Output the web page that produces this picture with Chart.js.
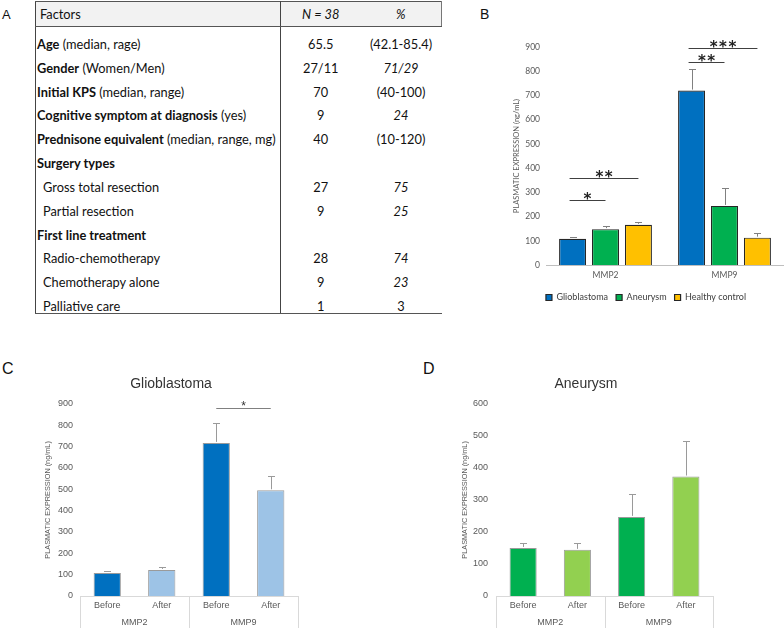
<!DOCTYPE html>
<html>
<head>
<meta charset="utf-8">
<script src="https://cdn.jsdelivr.net/npm/chart.js@4.4.1/dist/chart.umd.min.js"></script>
<style>
  body { margin: 0; background: #fff; width: 784px; height: 628px; position: relative; overflow: hidden; }
  .lbl { position: absolute; font-family: "Liberation Sans", Arial, sans-serif; line-height: 1; color: #111; }
  canvas { position: absolute; }
  table { position: absolute; left: 35px; top: 1px; width: 406px; border-collapse: collapse; table-layout: fixed;
          font-family: Lato, sans-serif; font-size: 12.8px; color: #111; }
  td { padding: 0; line-height: 14px; white-space: nowrap; }
  thead td { height: 24px; background: #f2f2f2; vertical-align: middle; border-top: 1.5px solid #555; border-bottom: 1.5px solid #555; }
  tbody td { height: 23.85px; vertical-align: bottom; }
  tbody tr:last-child td { border-bottom: 1.5px solid #555; }
  td.c1 { border-left: 1.5px solid #444; border-right: 1.5px solid #444; padding-left: 1px; }
  td.sub { padding-left: 7px; }
  td.c2, td.c3 { text-align: center; }
  thead td.c3 { border-right: 1px solid #777; }
</style>
</head>
<body>
<div class="lbl" style="left:2px;top:8px;font-size:13px">A</div>
<div class="lbl" style="left:480px;top:7px;font-size:14px">B</div>
<div class="lbl" style="left:2px;top:361px;font-size:16px">C</div>
<div class="lbl" style="left:423px;top:361px;font-size:16px">D</div>

<table>
  <colgroup><col style="width:245px"><col style="width:80px"><col style="width:81px"></colgroup>
  <thead>
    <tr><td class="c1" style="padding-left:4px">Factors</td><td class="c2"><i>N = 38</i></td><td class="c3"><i>%</i></td></tr>
  </thead>
  <tbody>
    <tr><td class="c1"><b>Age</b> (median, rage)</td><td class="c2">65.5</td><td class="c3">(42.1-85.4)</td></tr>
    <tr><td class="c1"><b>Gender</b> (Women/Men)</td><td class="c2">27/11</td><td class="c3"><i>71/29</i></td></tr>
    <tr><td class="c1"><b>Initial KPS</b> (median, range)</td><td class="c2">70</td><td class="c3">(40-100)</td></tr>
    <tr><td class="c1"><b>Cognitive symptom at diagnosis</b> (yes)</td><td class="c2">9</td><td class="c3"><i>24</i></td></tr>
    <tr><td class="c1"><b>Prednisone equivalent</b> (median, range, mg)</td><td class="c2">40</td><td class="c3">(10-120)</td></tr>
    <tr><td class="c1"><b>Surgery types</b></td><td class="c2"></td><td class="c3"></td></tr>
    <tr><td class="c1 sub">Gross total resection</td><td class="c2">27</td><td class="c3"><i>75</i></td></tr>
    <tr><td class="c1 sub">Partial resection</td><td class="c2">9</td><td class="c3"><i>25</i></td></tr>
    <tr><td class="c1"><b>First line treatment</b></td><td class="c2"></td><td class="c3"></td></tr>
    <tr><td class="c1 sub">Radio-chemotherapy</td><td class="c2">28</td><td class="c3"><i>74</i></td></tr>
    <tr><td class="c1 sub">Chemotherapy alone</td><td class="c2">9</td><td class="c3"><i>23</i></td></tr>
    <tr><td class="c1 sub">Palliative care</td><td class="c2">1</td><td class="c3">3</td></tr>
  </tbody>
</table>

<canvas id="chartB" width="344" height="315" style="left:440px;top:0px"></canvas>
<canvas id="chartC" width="400" height="298" style="left:0px;top:330px"></canvas>
<canvas id="chartD" width="384" height="298" style="left:400px;top:330px"></canvas>

<script>
// ---- panel B: all groups ----
const groupsB = ['MMP2', 'MMP9'];
const glioB = [108, 720];
const glioErrB = [8, 91];
const aneuB = [148, 244];
const aneuErrB = [14, 74];
const healthyB = [166, 113];
const healthyErrB = [11, 19];
const yMaxB = 900;
// significance bars: [dataset, index] to [dataset, index], height in ng/mL
const sigB = [
  { from: [0, 0], to: [1, 0], at: 270, text: '*' },
  { from: [0, 0], to: [2, 0], at: 360, text: '**' },
  { from: [0, 1], to: [1, 1], at: 840, text: '**' },
  { from: [0, 1], to: [2, 1], at: 896, text: '***' }
];

// ---- panel C: glioblastoma before / after ----
const timesC = ['Before', 'After', 'Before', 'After'];
const groupsC = ['MMP2', 'MMP9'];
const glioC = [108, 122, 717, 495];
const glioErrC = [11, 12, 92, 67];
const yMaxC = 900;
const sigC = [{ from: [0, 2], to: [0, 3], at: 878, text: '*' }];

// ---- panel D: aneurysm before / after ----
const timesD = ['Before', 'After', 'Before', 'After'];
const groupsD = ['MMP2', 'MMP9'];
const aneuD = [150, 144, 247, 373];
const aneuErrD = [17, 23, 72, 112];
const yMaxD = 600;

const BLUE = '#0070C0', LIGHT_BLUE = '#9DC3E6';
const GREEN = '#00B050', LIGHT_GREEN = '#92D050';
const YELLOW = '#FFC000';
const GREY_TXT = '#595959';

// top-only error bars, from dataset.errors
function errorBars(color, cap) {
  return {
    id: 'errorBars',
    afterDatasetsDraw(chart) {
      const ctx = chart.ctx;
      const y = chart.scales.y;
      chart.data.datasets.forEach((ds, i) => {
        if (!ds.errors) return;
        chart.getDatasetMeta(i).data.forEach((bar, j) => {
          const top = Math.round(y.getPixelForValue(ds.data[j] + ds.errors[j])) + 0.5;
          const x = Math.round(bar.x) + 0.5;
          ctx.save();
          ctx.strokeStyle = color;
          ctx.lineWidth = 1;
          ctx.beginPath();
          ctx.moveTo(x, bar.y - 1);
          ctx.lineTo(x, top);
          ctx.moveTo(x - cap, top);
          ctx.lineTo(x + cap, top);
          ctx.stroke();
          ctx.restore();
        });
      });
    }
  };
}

function sigLines(items, style) {
  return {
    id: 'sigLines',
    afterDatasetsDraw(chart) {
      const ctx = chart.ctx;
      const y = chart.scales.y;
      items.forEach(it => {
        const a = chart.getDatasetMeta(it.from[0]).data[it.from[1]];
        const b = chart.getDatasetMeta(it.to[0]).data[it.to[1]];
        const py = Math.round(y.getPixelForValue(it.at)) + 0.5;
        const x0 = a.x - style.shift, x1 = b.x;
        ctx.save();
        ctx.strokeStyle = style.line;
        ctx.lineWidth = 1;
        ctx.beginPath();
        ctx.moveTo(x0, py);
        ctx.lineTo(x1, py);
        ctx.stroke();
        ctx.fillStyle = style.color;
        ctx.font = style.font;
        ctx.letterSpacing = style.spacing + 'px';
        ctx.textAlign = 'center';
        ctx.textBaseline = 'alphabetic';
        ctx.fillText(it.text, (x0 + x1) / 2 + style.spacing / 2, py + style.dy);
        ctx.restore();
      });
    }
  };
}

// excel-like group dividers under the category axis
const groupSeparators = {
  id: 'groupSeparators',
  afterDraw(chart) {
    const g = chart.scales.x2;
    const n = g.getLabels().length;
    const ctx = chart.ctx;
    ctx.save();
    ctx.strokeStyle = '#d9d9d9';
    ctx.lineWidth = 1;
    for (let i = 0; i <= n; i++) {
      const x = Math.round(g.left + i * g.width / n) + 0.5;
      ctx.beginPath();
      ctx.moveTo(x, chart.chartArea.bottom);
      ctx.lineTo(x, g.bottom);
      ctx.stroke();
    }
    ctx.restore();
  }
};

new Chart(document.getElementById('chartB'), {
  type: 'bar',
  data: {
    labels: groupsB,
    datasets: [
      { label: 'Glioblastoma', data: glioB, errors: glioErrB, backgroundColor: BLUE, borderColor: '#262626', borderWidth: 1.2 },
      { label: 'Aneurysm', data: aneuB, errors: aneuErrB, backgroundColor: GREEN, borderColor: '#262626', borderWidth: 1.2 },
      { label: 'Healthy control', data: healthyB, errors: healthyErrB, backgroundColor: YELLOW, borderColor: '#262626', borderWidth: 1.2 }
    ]
  },
  options: {
    responsive: false,
    animation: false,
    devicePixelRatio: 1,
    layout: { padding: { left: 68, right: 0, top: 47, bottom: 3 } },
    datasets: { bar: { categoryPercentage: 0.83, barPercentage: 0.82 } },
    scales: {
      x: {
        grid: { display: false, drawTicks: false },
        border: { display: true, color: '#bfbfbf' },
        ticks: { padding: 5, color: GREY_TXT, font: { family: 'Lato', size: 8.5 } },
        afterFit: s => { s.height = 20; }
      },
      y: {
        min: 0,
        max: yMaxB,
        grid: { display: false, drawTicks: false },
        border: { display: false },
        ticks: { stepSize: 100, padding: 6, color: GREY_TXT, font: { family: 'Lato', size: 8.5 } },
        title: { display: true, text: 'PLASMATIC EXPRESSION (ng/mL)', color: GREY_TXT, font: { family: 'Lato', size: 7.5 }, padding: { top: 4, bottom: 0 } },
        afterFit: s => { s.width = 38; }
      }
    },
    plugins: {
      legend: {
        position: 'bottom',
        labels: { boxWidth: 6, boxHeight: 6, padding: 8, color: '#404040', font: { family: 'Lato', size: 9 } }
      },
      tooltip: { enabled: false }
    }
  },
  plugins: [errorBars('#808080', 3.5),
    sigLines(sigB, { line: '#404040', color: '#222', font: 'bold 15px "DejaVu Sans"', dy: 3, shift: 3, spacing: 1.5 })]
});

function beforeAfterChart(id, cats, groups, values, errors, colors, yMax, title, pad, yWidth, tickPad, titlePad, sig) {
  const plugins = [errorBars('#9a9a9a', 3.5), groupSeparators];
  if (sig) plugins.push(sigLines(sig, { line: '#808080', color: '#333', font: '12px "Liberation Sans"', dy: 1, shift: 0, spacing: 0 }));
  return new Chart(document.getElementById(id), {
    type: 'bar',
    data: {
      labels: cats,
      datasets: [{ label: title, data: values, errors: errors, backgroundColor: colors, borderColor: '#9a9a9a', borderWidth: 1 }]
    },
    options: {
      responsive: false,
      animation: false,
      devicePixelRatio: 1,
      layout: { padding: pad },
      datasets: { bar: { categoryPercentage: 1, barPercentage: 0.5 } },
      scales: {
        x: {
          grid: { display: false, drawTicks: false },
          border: { display: true, color: '#d9d9d9' },
          ticks: { padding: 4, color: GREY_TXT, font: { family: 'Liberation Sans', size: 9 } },
          afterFit: s => { s.height = 17; }
        },
        x2: {
          type: 'category',
          position: 'bottom',
          labels: groups,
          offset: true,
          grid: { display: false, drawTicks: false },
          border: { display: false },
          ticks: { padding: 4, color: GREY_TXT, font: { family: 'Liberation Sans', size: 9 } },
          afterFit: s => { s.height = 15; }
        },
        y: {
          min: 0,
          max: yMax,
          grid: { display: false, drawTicks: false },
          border: { display: false },
          ticks: { stepSize: 100, padding: tickPad, color: GREY_TXT, font: { family: 'Liberation Sans', size: 9 } },
          title: { display: true, text: 'PLASMATIC EXPRESSION (ng/mL)', color: GREY_TXT, font: { family: 'Liberation Sans', size: 7.3 }, padding: { top: titlePad, bottom: 0 } },
          afterFit: s => { s.width = yWidth; }
        }
      },
      plugins: {
        legend: { display: false },
        tooltip: { enabled: false },
        title: { display: true, text: title, color: '#333', font: { family: 'Liberation Sans', size: 14, weight: 'normal' }, padding: { top: 10, bottom: 11 } }
      }
    },
    plugins: plugins
  });
}

beforeAfterChart('chartC', timesC, groupsC, glioC, glioErrC, [BLUE, LIGHT_BLUE, BLUE, LIGHT_BLUE], yMaxC,
  'Glioblastoma', { left: 44, right: 102, top: 36, bottom: 0 }, 36, 7, 0, sigC);
beforeAfterChart('chartD', timesD, groupsD, aneuD, aneuErrD, [GREEN, LIGHT_GREEN, GREEN, LIGHT_GREEN], yMaxD,
  'Aneurysm', { left: 59, right: 71, top: 36, bottom: 0 }, 37, 8, 2, null);
</script>
</body>
</html>
